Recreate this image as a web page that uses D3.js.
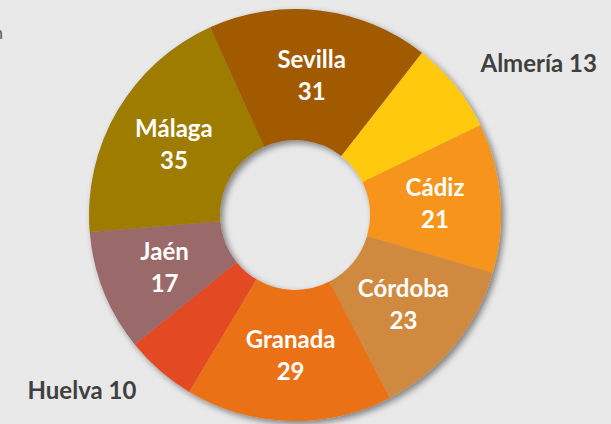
<!DOCTYPE html>
<html>
<head>
<meta charset="utf-8">
<script src="https://cdn.jsdelivr.net/npm/d3@7"></script>
<style>
  html, body { margin: 0; padding: 0; background: #e9e9e9; }
  svg { display: block; }
</style>
</head>
<body>
<svg id="chart" width="611" height="424"></svg>
<script>
// provincias de Andalucía
const provincias = ["Almería", "Cádiz", "Córdoba", "Granada", "Huelva", "Jaén", "Málaga", "Sevilla"];
const valores = [13, 21, 23, 29, 10, 17, 35, 31];
const colores = ["#ffc90e", "#f7941e", "#cf8a41", "#eb7118", "#e34a24", "#9a6a6a", "#9e7c00", "#a15a06"];
const fuera = ["Almería", "Huelva"]; // labels drawn outside the ring

const W = 611, H = 424;
const cx = 295, cy = 215;
const rOut = 206, rIn = 75;

const svg = d3.select("#chart");

svg.append("rect").attr("width", W).attr("height", H).attr("fill", "#e9e9e9");

// cut-off title glyph at the left edge
svg.append("text")
  .attr("x", 3).attr("y", 39)
  .attr("text-anchor", "end")
  .attr("font-family", "Lato, sans-serif")
  .attr("font-size", 17)
  .attr("fill", "#595959")
  .text("n");

const defs = svg.append("defs");
const f = defs.append("filter").attr("id", "sombra")
  .attr("x", "-10%").attr("y", "-10%").attr("width", "125%").attr("height", "125%");
f.append("feDropShadow")
  .attr("dx", 3).attr("dy", 3)
  .attr("stdDeviation", 3)
  .attr("flood-color", "#000")
  .attr("flood-opacity", 0.45);

const datos = provincias.map((p, i) => ({ name: p, value: valores[i], color: colores[i] }));

const start = 38 * Math.PI / 180;
const pie = d3.pie().sort(null).value(d => d.value)
  .startAngle(start).endAngle(start + 2 * Math.PI);
const arc = d3.arc().innerRadius(rIn).outerRadius(rOut);

const arcs = pie(datos);

const g = svg.append("g").attr("transform", `translate(${cx},${cy})`);

g.append("g").attr("filter", "url(#sombra)")
  .selectAll("path")
  .data(arcs)
  .join("path")
  .attr("d", arc)
  .attr("fill", d => d.data.color);

// labels inside the ring
const dentro = arcs.filter(d => !fuera.includes(d.data.name));
const lbl = g.selectAll("g.lbl")
  .data(dentro)
  .join("g")
  .attr("class", "lbl")
  .attr("transform", d => `translate(${arc.centroid(d)})`);

lbl.append("text")
  .attr("y", -7)
  .attr("text-anchor", "middle")
  .attr("font-family", "Lato, sans-serif")
  .attr("font-weight", "bold")
  .attr("font-size", 24)
  .attr("fill", "#fff")
  .text(d => d.data.name);

lbl.append("text")
  .attr("y", 25)
  .attr("text-anchor", "middle")
  .attr("font-family", "Lato, sans-serif")
  .attr("font-weight", "bold")
  .attr("font-size", 24)
  .attr("fill", "#fff")
  .text(d => d.data.value);

// labels outside the ring
const arcFuera = d3.arc().innerRadius(285).outerRadius(285);
const ajuste = { "Almería": [22, 36], "Huelva": [-26, -31] };
g.selectAll("text.fuera")
  .data(arcs.filter(d => fuera.includes(d.data.name)))
  .join("text")
  .attr("class", "fuera")
  .attr("x", d => arcFuera.centroid(d)[0] + ajuste[d.data.name][0])
  .attr("y", d => arcFuera.centroid(d)[1] + ajuste[d.data.name][1])
  .attr("text-anchor", "middle")
  .attr("font-family", "Lato, sans-serif")
  .attr("font-weight", "bold")
  .attr("font-size", 24)
  .attr("fill", "#404040")
  .text(d => d.data.name + " " + d.data.value);
</script>
</body>
</html>
